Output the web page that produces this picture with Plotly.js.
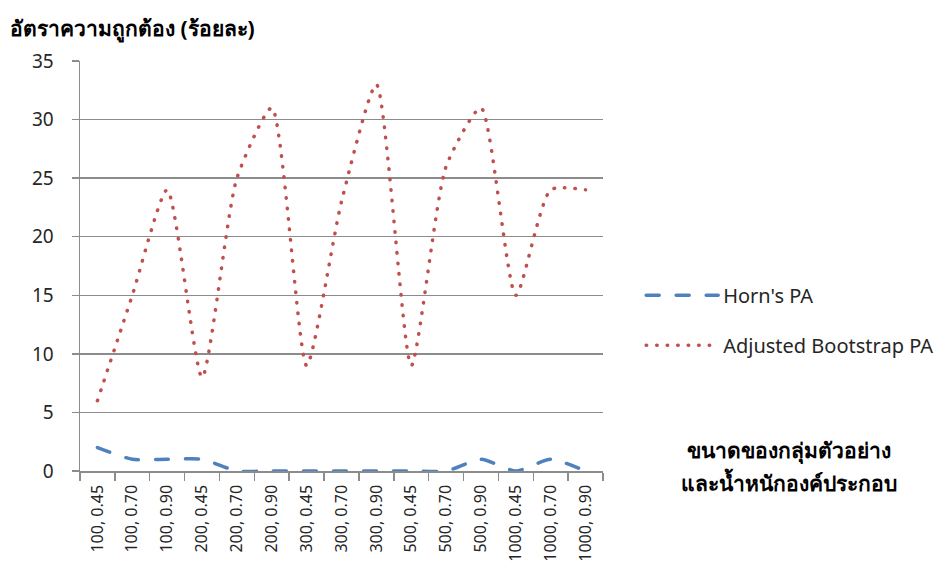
<!DOCTYPE html>
<html>
<head>
<meta charset="utf-8">
<script src="https://cdn.plot.ly/plotly-3.0.1.min.js"></script>
<style>
  html, body { margin: 0; padding: 0; background: #fff; }
  #chart { width: 937px; height: 572px; }
  /* rounded caps turn the short dash segments into round dots */
  .scatterlayer .js-line, .legend .js-line { stroke-linecap: round; }
</style>
</head>
<body>
<div id="chart"></div>
<script>
// Sample size, factor loading
const categories = [
  '100, 0.45', '100, 0.70', '100, 0.90',
  '200, 0.45', '200, 0.70', '200, 0.90',
  '300, 0.45', '300, 0.70', '300, 0.90',
  '500, 0.45', '500, 0.70', '500, 0.90',
  '1000, 0.45', '1000, 0.70', '1000, 0.90'
];
// Accuracy rate (percent)
const hornPA = [2, 1, 1, 1, 0, 0, 0, 0, 0, 0, 0, 1, 0, 1, 0];
const adjustedBootstrapPA = [6, 15, 24, 8, 25, 31, 9, 23, 33, 9, 26, 31, 15, 24, 24];
const yTicks = [0, 5, 10, 15, 20, 25, 30, 35];

const uiFont = '"Noto Sans", "DejaVu Sans", sans-serif';

const traces = [
  {
    x: categories, y: hornPA, name: "Horn's PA", type: 'scatter', mode: 'lines',
    legendgroup: 'horn',
    line: { color: '#4f81bd', width: 3.5, dash: '13px,17px', shape: 'spline', smoothing: 0.6 }
  },
  {
    x: categories, y: adjustedBootstrapPA, name: 'Adjusted Bootstrap PA', type: 'scatter', mode: 'lines',
    legendgroup: 'bootstrap',
    line: { color: '#c0504d', width: 3.5, dash: '0.5px,10px', shape: 'spline', smoothing: 0.6 }
  }
];

const layout = {
  width: 937, height: 572,
  margin: { l: 80, r: 334, t: 61, b: 101, autoexpand: false },
  paper_bgcolor: '#ffffff', plot_bgcolor: '#ffffff',
  font: { family: uiFont, color: '#262626' },
  showlegend: true,
  legend: {
    x: 1.073, y: 0.3675, xanchor: 'left', yanchor: 'middle',
    itemwidth: 72, traceorder: 'grouped', tracegroupgap: 21,
    font: { size: 20, color: '#262626' },
    bgcolor: 'rgba(0,0,0,0)'
  },
  xaxis: {
    type: 'category',
    tickson: 'boundaries',
    ticks: 'outside', ticklen: 8, tickcolor: '#8c8c8c', tickwidth: 1.5,
    showline: true, linecolor: '#8c8c8c', linewidth: 1.5,
    showgrid: false,
    tickangle: -90,
    ticklabelstandoff: 6,
    tickfont: { size: 16, color: '#262626' },
    range: [-0.5, 14.5]
  },
  yaxis: {
    range: [0, 35],
    tickvals: yTicks,
    ticks: 'outside', ticklen: 7, tickcolor: '#8c8c8c', tickwidth: 1.5,
    showline: true, linecolor: '#8c8c8c', linewidth: 1.5,
    gridcolor: '#8c8c8c', gridwidth: 1.5,
    zeroline: false,
    ticklabelstandoff: 14,
    tickfont: { size: 19, color: '#262626' }
  },
  annotations: [
    {
      xref: 'paper', yref: 'paper', x: -0.137, y: 1.08, xanchor: 'left', yanchor: 'middle',
      text: '<b>อัตราความถูกต้อง (ร้อยละ)</b>', showarrow: false,
      font: { size: 21, color: '#000000' }
    },
    {
      xref: 'paper', yref: 'paper', x: 1.356, y: 0.05, xanchor: 'center', yanchor: 'middle',
      text: '<b>ขนาดของกลุ่มตัวอย่าง</b>', showarrow: false,
      font: { size: 21, color: '#000000' }
    },
    {
      xref: 'paper', yref: 'paper', x: 1.356, y: -0.028, xanchor: 'center', yanchor: 'middle',
      text: '<b>และน้ำหนักองค์ประกอบ</b>', showarrow: false,
      font: { size: 21, color: '#000000' }
    }
  ]
};

Plotly.newPlot('chart', traces, layout, { staticPlot: true, displayModeBar: false });
</script>
</body>
</html>
